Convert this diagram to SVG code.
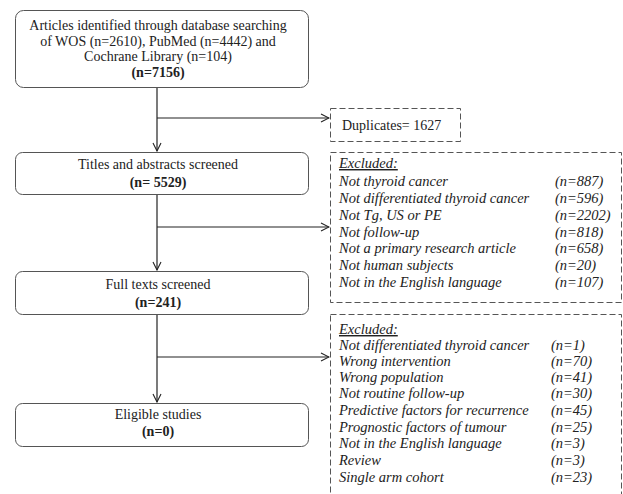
<svg xmlns="http://www.w3.org/2000/svg" width="623" height="494" viewBox="0 0 623 494">
<defs>
<marker id="arr" markerWidth="10" markerHeight="10" refX="9" refY="5" orient="auto" markerUnits="userSpaceOnUse">
<path d="M1,1 L9,5 L1,9" fill="none" stroke="#222" stroke-width="1.1"/>
</marker>
</defs>
<style>
text{font-family:"Liberation Serif","Times New Roman",serif;font-size:14px;fill:#222}
.c{text-anchor:middle}
.b{font-weight:bold}
.i{font-style:italic;font-size:14.5px}
.u{text-decoration:underline}
.box{fill:#fff;stroke:#555;stroke-width:1}
.dash{fill:#fff;stroke:#555;stroke-width:1;stroke-dasharray:6,3}
.ln{fill:none;stroke:#222;stroke-width:1.2}
</style>
<rect width="623" height="494" fill="#fff"/>
<g id="connectors">
<path class="ln" d="M157,87 V151" marker-end="url(#arr)"/>
<path class="ln" d="M157,118 H329" marker-end="url(#arr)"/>
<path class="ln" d="M157,194 V270" marker-end="url(#arr)"/>
<path class="ln" d="M157,227 H329" marker-end="url(#arr)"/>
<path class="ln" d="M157,314 V402" marker-end="url(#arr)"/>
<path class="ln" d="M157,357 H329" marker-end="url(#arr)"/>
</g>
<g id="identified">
<rect class="box" x="15.5" y="10.5" width="293" height="77" rx="8"/>
<text class="c" x="158" y="30">Articles identified through database searching</text>
<text class="c" x="158" y="46">of WOS (n=2610), PubMed (n=4442) and</text>
<text class="c" x="158" y="61">Cochrane Library (n=104)</text>
<text class="c b" x="158" y="77">(n=7156)</text>
</g>
<g id="duplicates">
<rect class="dash" x="330.5" y="108.5" width="130" height="33"/>
<text x="342" y="130">Duplicates= 1627</text>
</g>
<g id="titles">
<rect class="box" x="15.5" y="152.5" width="293" height="42" rx="7"/>
<text class="c" x="158" y="169">Titles and abstracts screened</text>
<text class="c b" x="158" y="187">(n= 5529)</text>
</g>
<g id="excluded1">
<rect class="dash" x="330.5" y="152.5" width="291" height="150"/>
<text class="i u" x="339" y="168">Excluded:</text>
<text class="i" x="339" y="186">Not thyroid cancer</text>
<text class="i" x="555" y="186">(n=887)</text>
<text class="i" x="339" y="203">Not differentiated thyroid cancer</text>
<text class="i" x="555" y="203">(n=596)</text>
<text class="i" x="339" y="220">Not Tg, US or PE</text>
<text class="i" x="555" y="220">(n=2202)</text>
<text class="i" x="339" y="237">Not follow-up</text>
<text class="i" x="555" y="237">(n=818)</text>
<text class="i" x="339" y="253">Not a primary research article</text>
<text class="i" x="555" y="253">(n=658)</text>
<text class="i" x="339" y="270">Not human subjects</text>
<text class="i" x="555" y="270">(n=20)</text>
<text class="i" x="339" y="287">Not in the English language</text>
<text class="i" x="555" y="287">(n=107)</text>
</g>
<g id="fulltexts">
<rect class="box" x="15.5" y="271.5" width="293" height="43" rx="7"/>
<text class="c" x="158" y="289">Full texts screened</text>
<text class="c b" x="158" y="307">(n=241)</text>
</g>
<g id="excluded2">
<rect class="dash" x="330.5" y="314.5" width="291" height="185"/>
<text class="i u" x="339" y="334">Excluded:</text>
<text class="i" x="339" y="350">Not differentiated thyroid cancer</text>
<text class="i" x="551" y="350">(n=1)</text>
<text class="i" x="339" y="366">Wrong intervention</text>
<text class="i" x="551" y="366">(n=70)</text>
<text class="i" x="339" y="382">Wrong population</text>
<text class="i" x="551" y="382">(n=41)</text>
<text class="i" x="339" y="398">Not routine follow-up</text>
<text class="i" x="551" y="398">(n=30)</text>
<text class="i" x="339" y="415">Predictive factors for recurrence</text>
<text class="i" x="551" y="415">(n=45)</text>
<text class="i" x="339" y="432">Prognostic factors of tumour</text>
<text class="i" x="551" y="432">(n=25)</text>
<text class="i" x="339" y="448">Not in the English language</text>
<text class="i" x="551" y="448">(n=3)</text>
<text class="i" x="339" y="465">Review</text>
<text class="i" x="551" y="465">(n=3)</text>
<text class="i" x="339" y="482">Single arm cohort</text>
<text class="i" x="551" y="482">(n=23)</text>
</g>
<g id="eligible">
<rect class="box" x="15.5" y="403.5" width="293" height="43" rx="7"/>
<text class="c" x="158" y="419">Eligible studies</text>
<text class="c b" x="158" y="436">(n=0)</text>
</g>
</svg>
